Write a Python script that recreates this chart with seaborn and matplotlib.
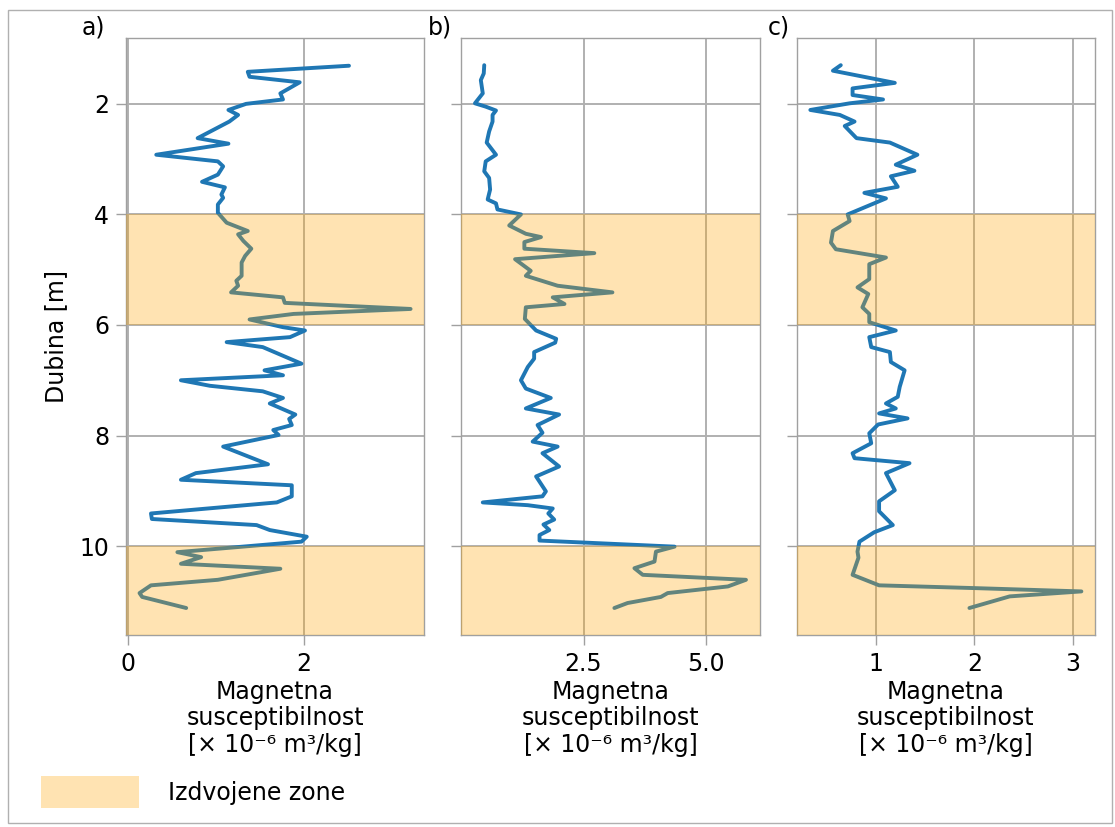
import numpy as np
import pandas as pd
import matplotlib
matplotlib.use("Agg")
import matplotlib.pyplot as plt
from matplotlib.patches import Patch, Rectangle
import seaborn as sns

# ---------------- data ----------------
depth_a = [1.31, 1.42, 1.51, 1.61, 1.81, 1.92, 2.00, 2.11, 2.20, 2.32, 2.62, 2.72, 2.92, 3.04, 3.13,
           3.28, 3.41, 3.51, 3.64, 3.70, 3.82, 3.97, 4.15, 4.30, 4.36, 4.48, 4.62, 4.75, 4.87, 5.11,
           5.20, 5.29, 5.41, 5.50, 5.60, 5.71, 5.80, 5.90, 6.04, 6.10, 6.22, 6.31, 6.40, 6.70, 6.82,
           6.91, 7.00, 7.10, 7.20, 7.32, 7.42, 7.62, 7.70, 7.81, 7.90, 7.99, 8.20, 8.52, 8.68, 8.80,
           8.90, 9.10, 9.21, 9.41, 9.51, 9.62, 9.71, 9.83, 9.92, 10.11, 10.20, 10.32, 10.41, 10.61,
           10.71, 10.85, 10.92, 11.12]
susc_a = [2.51, 1.36, 1.38, 1.95, 1.73, 1.76, 1.34, 1.14, 1.25, 1.15, 0.79, 1.14, 0.32, 1.02, 1.08,
          1.02, 0.84, 1.10, 1.06, 1.08, 1.02, 1.02, 1.12, 1.36, 1.25, 1.31, 1.40, 1.33, 1.29, 1.29,
          1.23, 1.25, 1.17, 1.76, 1.78, 3.21, 1.88, 1.38, 1.76, 2.01, 1.84, 1.12, 1.53, 1.97, 1.55,
          1.76, 0.60, 0.93, 1.53, 1.76, 1.61, 1.90, 1.83, 1.86, 1.65, 1.71, 1.08, 1.59, 0.77, 0.60,
          1.86, 1.86, 1.69, 0.26, 0.27, 1.46, 1.61, 2.03, 1.97, 0.56, 0.83, 0.60, 1.73, 1.02,
          0.26, 0.13, 0.16, 0.66]

depth_b = [1.30, 1.45, 1.57, 1.81, 1.99, 2.05, 2.12, 2.20, 2.32, 2.50, 2.70, 2.92, 3.04, 3.22, 3.34,
           3.55, 3.73, 3.80, 3.91, 4.00, 4.20, 4.35, 4.41, 4.50, 4.62, 4.70, 4.81, 5.02, 5.11, 5.29,
           5.41, 5.50, 5.62, 5.68, 5.89, 6.10, 6.25, 6.32, 6.49, 6.61, 6.76, 7.00, 7.15, 7.32, 7.51,
           7.62, 7.81, 7.95, 8.11, 8.20, 8.32, 8.56, 8.74, 9.01, 9.10, 9.21, 9.26, 9.32, 9.41, 9.52,
           9.61, 9.71, 9.80, 9.90, 10.01, 10.10, 10.28, 10.40, 10.52, 10.61, 10.73, 10.85, 10.92,
           11.03, 11.12]
susc_b = [0.47, 0.46, 0.40, 0.44, 0.28, 0.50, 0.71, 0.64, 0.64, 0.57, 0.52, 0.71, 0.50, 0.47, 0.57,
          0.59, 0.54, 0.71, 0.74, 1.22, 0.98, 1.32, 1.63, 1.29, 1.29, 2.72, 1.10, 1.42, 1.32, 1.97,
          3.09, 1.87, 2.11, 1.32, 1.30, 1.53, 1.94, 1.92, 1.49, 1.49, 1.36, 1.22, 1.32, 1.83, 1.32,
          2.00, 1.56, 1.66, 1.46, 1.97, 1.66, 2.00, 1.53, 1.73, 1.66, 0.44, 1.36, 1.87, 1.78, 1.90,
          1.68, 1.80, 1.60, 1.60, 4.36, 3.98, 3.95, 3.54, 3.71, 5.82, 5.45, 4.22, 4.08,
          3.40, 3.13]

depth_c = [1.30, 1.40, 1.62, 1.72, 1.84, 1.92, 1.99, 2.11, 2.20, 2.32, 2.40, 2.62, 2.70, 2.92, 3.10,
           3.21, 3.31, 3.50, 3.61, 3.71, 4.00, 4.12, 4.30, 4.51, 4.63, 4.78, 4.90, 5.17, 5.32, 5.44,
           5.68, 5.80, 5.95, 6.10, 6.22, 6.40, 6.49, 6.67, 6.82, 7.12, 7.30, 7.42, 7.51, 7.60, 7.69,
           7.80, 7.96, 8.14, 8.32, 8.41, 8.50, 8.68, 8.99, 9.19, 9.37, 9.62, 9.75, 9.92, 10.10, 10.21,
           10.52, 10.71, 10.76, 10.82, 10.91, 11.12]
susc_c = [0.64, 0.56, 1.19, 0.76, 0.76, 1.07, 0.73, 0.33, 0.63, 0.78, 0.68, 0.80, 1.14, 1.42, 1.20,
          1.39, 1.15, 1.22, 0.88, 1.10, 0.71, 0.73, 0.56, 0.54, 0.59, 1.10, 0.93, 0.93, 0.81, 0.92,
          0.86, 0.93, 0.93, 1.20, 0.93, 0.95, 1.14, 1.15, 1.29, 1.24, 1.22, 1.10, 1.20, 1.03, 1.32,
          1.02, 0.93, 0.95, 0.76, 0.78, 1.34, 1.10, 1.19, 1.03, 1.03, 1.17, 0.98, 0.83, 0.81, 0.82,
          0.76, 1.03, 2.00, 3.09, 2.36, 1.95]

panel_labels = ["a)", "b)", "c)"]
xticks = [[0, 2], [2.5, 5.0], [1, 2, 3]]
xticklabels = [["0", "2"], ["2.5", "5.0"], ["1", "2", "3"]]
zones = [(4, 6), (10, None)]
xlabel = "Magnetna\nsusceptibilnost\n[× 10⁻⁶ m³/kg]"
ylabel = "Dubina [m]"
legend_label = "Izdvojene zone"

# ---------------- style ----------------
FS = 17
sns.set_theme(style="whitegrid")
plt.rcParams.update({
    "font.family": ["DejaVu Sans"],
    "font.size": FS,
    "text.color": "black",
    "axes.labelcolor": "black",
    "axes.edgecolor": "#a0a0a0",
    "axes.linewidth": 1.0,
    "grid.color": "#b0b0b0",
    "grid.linewidth": 1.4,
    "xtick.color": "#a0a0a0",
    "ytick.color": "#a0a0a0",
    "xtick.labelcolor": "black",
    "ytick.labelcolor": "black",
    "xtick.bottom": True,
    "ytick.left": True,
    "xtick.major.size": 7,
    "ytick.major.size": 7,
    "xtick.major.pad": 5,
    "ytick.major.pad": 5,
    "xtick.major.width": 1.0,
    "ytick.major.width": 1.0,
    "xtick.labelsize": FS,
    "ytick.labelsize": FS,
})

line_color = "#1f77b4"
zone_color = "orange"
zone_alpha = 0.3

fig, axes = plt.subplots(1, 3, sharey=True, figsize=(11.15, 8.27), dpi=100)
fig.subplots_adjust(left=0.113, right=0.982, top=0.954, bottom=0.232, wspace=0.125)

datasets = [(susc_a, depth_a), (susc_b, depth_b), (susc_c, depth_c)]
for i, (ax, (xs, ys)) in enumerate(zip(axes, datasets)):
    df = pd.DataFrame({"s": xs, "d": ys})
    sns.lineplot(data=df, x="s", y="d", sort=False, estimator=None, orient="y",
                 color=line_color, linewidth=2.8, ax=ax)
    ax.set_xticks(xticks[i])
    ax.set_xticklabels(xticklabels[i])
    ax.set_xlabel(xlabel, fontsize=FS, linespacing=1.12, labelpad=3)
    ax.set_ylabel("")
    ax.grid(True)
    ax.set_axisbelow(True)

# y-limits from data with default margins
ylo, yhi = axes[0].get_ylim()
for ax in axes:
    for (z0, z1) in zones:
        top = z1 if z1 is not None else yhi + 1
        ax.axhspan(z0, top, color=zone_color, alpha=zone_alpha, lw=0, zorder=3)
axes[0].set_ylim(yhi, ylo)
axes[0].set_yticks([2, 4, 6, 8, 10])
axes[0].set_ylabel(ylabel, fontsize=FS, labelpad=8)
for ax in axes[1:]:
    ax.tick_params(axis="y", labelleft=False)

label_x = [-0.07, -0.03, -0.023]
for ax, lab, lx in zip(axes, panel_labels, label_x):
    ax.text(lx, 1.006, lab, transform=ax.transAxes, ha="right", va="baseline", fontsize=FS)

handle = Patch(facecolor=zone_color, alpha=zone_alpha, edgecolor="none")
fig.legend(handles=[handle], labels=[legend_label], loc="lower left",
           bbox_to_anchor=(0.018, -0.003), frameon=False, fontsize=FS,
           handlelength=4.15, handleheight=1.75, handletextpad=1.2)

fig.patches.append(Rectangle((8 / 1115, 4 / 827), 1 - 11 / 1115, 1 - 14 / 827,
                             transform=fig.transFigure, fill=False,
                             edgecolor="#b0b0b0", linewidth=1.0))

fig.savefig("out.png", dpi=100)
